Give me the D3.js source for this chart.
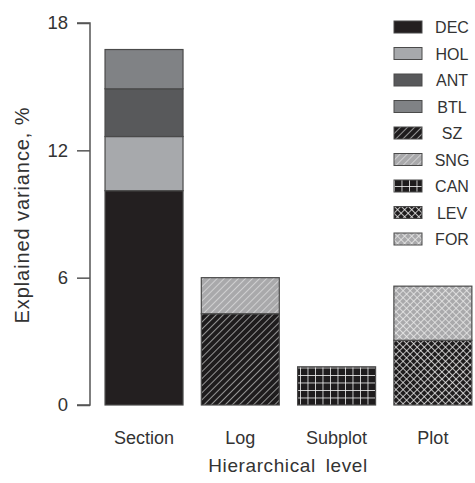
<!DOCTYPE html>
<html>
<head>
<meta charset="utf-8">
<script src="https://cdn.jsdelivr.net/npm/d3@7"></script>
<style>
  body { margin: 0; background: #fff; }
  text { font-family: "Liberation Sans", Arial, sans-serif; fill: #333; }
</style>
</head>
<body>
<div id="chart"></div>
<script>
// hierarchical levels (x categories)
var levels = ["Section", "Log", "Subplot", "Plot"];
// components, bottom to top within each bar
var components = ["DEC", "HOL", "ANT", "BTL", "SZ", "SNG", "CAN", "LEV", "FOR"];
// explained variance (%) per component for each level
var DEC = [10.1, 0, 0, 0];
var HOL = [2.55, 0, 0, 0];
var ANT = [2.25, 0, 0, 0];
var BTL = [1.85, 0, 0, 0];
var SZ  = [0, 4.3, 0, 0];
var SNG = [0, 1.7, 0, 0];
var CAN = [0, 0, 1.8, 0];
var LEV = [0, 0, 0, 3.05];
var FOR = [0, 0, 0, 2.55];
var yTicks = [0, 6, 12, 18];

var series = {DEC: DEC, HOL: HOL, ANT: ANT, BTL: BTL, SZ: SZ, SNG: SNG, CAN: CAN, LEV: LEV, FOR: FOR};

var table = levels.map(function(l, i) {
    var row = {level: l};
    components.forEach(function(c) { row[c] = series[c][i]; });
    return row;
});

var width = 475, height = 483;

var svg = d3.select("#chart").append("svg")
    .attr("width", width)
    .attr("height", height);

var defs = svg.append("defs");

// diagonal "/" lines
function hatch(id, bg, fg, size, sw) {
    var p = defs.append("pattern")
        .attr("id", id)
        .attr("patternUnits", "userSpaceOnUse")
        .attr("width", size).attr("height", size)
        .attr("patternTransform", "rotate(45)");
    p.append("rect").attr("width", size).attr("height", size).attr("fill", bg);
    p.append("line").attr("x1", 0).attr("y1", 0).attr("x2", 0).attr("y2", size)
        .attr("stroke", fg).attr("stroke-width", sw);
}
// grid (optionally rotated)
function grid(id, bg, fg, size, sw, rot) {
    var p = defs.append("pattern")
        .attr("id", id)
        .attr("patternUnits", "userSpaceOnUse")
        .attr("width", size).attr("height", size);
    if (rot) p.attr("patternTransform", "rotate(" + rot + ")");
    p.append("rect").attr("width", size).attr("height", size).attr("fill", bg);
    p.append("line").attr("x1", 0).attr("y1", 0).attr("x2", 0).attr("y2", size)
        .attr("stroke", fg).attr("stroke-width", sw);
    p.append("line").attr("x1", 0).attr("y1", 0).attr("x2", size).attr("y2", 0)
        .attr("stroke", fg).attr("stroke-width", sw);
}

hatch("pSZ", "#1e1c1d", "#b4b4b4", 5, 1.6);
hatch("pSNG", "#a9a9ab", "#e2e2e2", 5, 1.4);
grid("pCAN", "#1e1c1d", "#f2f2f2", 7.5, 1.6, 0);
grid("pLEV", "#1e1c1d", "#f2f2f2", 5, 1.5, 45);
grid("pFOR", "#a9a9ab", "#ececec", 5, 1.5, 45);

var fills = {
    DEC: "#231f20",
    HOL: "#a7a9ac",
    ANT: "#58595b",
    BTL: "#808285",
    SZ: "url(#pSZ)",
    SNG: "url(#pSNG)",
    CAN: "url(#pCAN)",
    LEV: "url(#pLEV)",
    FOR: "url(#pFOR)"
};

var x = d3.scaleBand().domain(levels).range([95.4, 481.5])
    .paddingInner(0.19).paddingOuter(0.1);
var y = d3.scaleLinear().domain([0, 18]).range([405, 23]);

var stacked = d3.stack().keys(components)(table);

var bars = svg.append("g");
stacked.forEach(function(s) {
    bars.selectAll(null)
        .data(s.filter(function(d) { return d[1] - d[0] > 0; }))
        .enter().append("rect")
        .attr("x", function(d) { return x(d.data.level); })
        .attr("y", function(d) { return y(d[1]); })
        .attr("width", x.bandwidth())
        .attr("height", function(d) { return y(d[0]) - y(d[1]); })
        .attr("fill", fills[s.key])
        .attr("stroke", "#4a4a4a")
        .attr("stroke-width", 1.2);
});

// y axis
var yAxis = d3.axisLeft(y).tickValues(yTicks).tickSize(13).tickPadding(9);
var ya = svg.append("g")
    .attr("transform", "translate(90,0)")
    .call(yAxis);
ya.select(".domain").attr("stroke", "#555").attr("stroke-width", 1.5)
    .attr("d", "M-13," + y(18) + "H0V" + y(0) + "H-13");
ya.selectAll(".tick line").attr("stroke", "#555").attr("stroke-width", 1.5);
ya.selectAll(".tick text").attr("font-size", 18.5).attr("fill", "#333")
    .attr("font-family", "Liberation Sans, Arial, sans-serif");

// x labels
svg.append("g").selectAll("text")
    .data(levels)
    .enter().append("text")
    .attr("x", function(d) { return x(d) + x.bandwidth() / 2; })
    .attr("y", 444)
    .attr("text-anchor", "middle")
    .attr("font-size", 18)
    .text(function(d) { return d; });

svg.append("text")
    .attr("x", 288).attr("y", 472)
    .attr("text-anchor", "middle")
    .attr("font-size", 19)
    .attr("letter-spacing", 0.6)
    .attr("word-spacing", 4)
    .text("Hierarchical level");

svg.append("text")
    .attr("transform", "translate(29,215) rotate(-90)")
    .attr("text-anchor", "middle")
    .attr("font-size", 20)
    .attr("letter-spacing", 0.9)
    .text("Explained variance, %");

// legend
var legend = svg.append("g").selectAll("g")
    .data(components)
    .enter().append("g")
    .attr("transform", function(d, i) { return "translate(394," + (27 + i * 26.5) + ")"; });

legend.append("rect")
    .attr("x", 0).attr("y", -6)
    .attr("width", 28).attr("height", 12)
    .attr("fill", function(d) { return fills[d]; })
    .attr("stroke", "#4a4a4a")
    .attr("stroke-width", 1);

legend.append("text")
    .attr("x", 58).attr("y", 6)
    .attr("text-anchor", "middle")
    .attr("font-size", 16)
    .text(function(d) { return d; });
</script>
</body>
</html>
